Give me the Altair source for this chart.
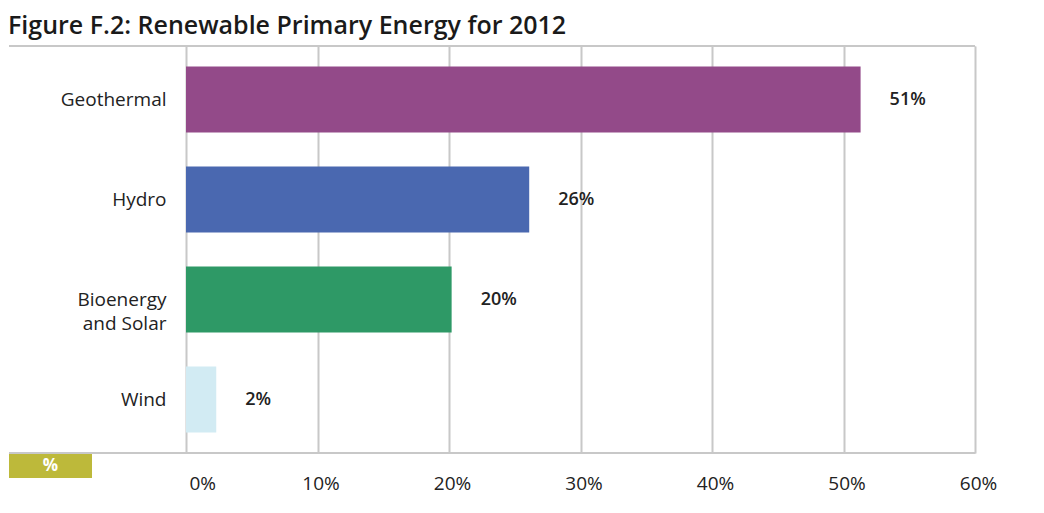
import altair as alt
import pandas as pd

categories = ["Geothermal", "Hydro", "Bioenergy|and Solar", "Wind"]
values = [51.3, 26.1, 20.2, 2.3]
labels = ["51%", "26%", "20%", "2%"]
colors = ["#934A89", "#4A68B0", "#2E9966", "#D2EBF3"]
x_ticks = [0, 10, 20, 30, 40, 50, 60]

df = pd.DataFrame({"cat": categories, "val": values, "lab": labels})

W, H = 789, 407
FONT = "Open Sans"
GRID = "#C8C8C8"

y_enc = alt.Y(
    "cat:N", sort=categories, title=None,
    scale=alt.Scale(paddingInner=0.34, paddingOuter=0.205),
    axis=alt.Axis(labelExpr="split(datum.label, '|')", labelFont=FONT, labelFontSize=19,
                  labelColor="#222222", labelPadding=20, ticks=False, domain=False,
                  labelLineHeight=24, grid=False),
)
x_enc = alt.X(
    "val:Q", title=None,
    scale=alt.Scale(domain=[0, 60], nice=False),
    axis=alt.Axis(values=x_ticks, labelExpr="datum.value + '%'", labelFont=FONT, labelFontSize=19,
                  labelColor="#222222", labelPadding=21, ticks=False, domain=False,
                  labelFlush=False, labelOffset=3,
                  labelAlign=alt.ExprRef(expr="datum.value == 0 ? 'left' : 'center'"),
                  grid=True, gridColor=GRID, gridWidth=2),
)

bars = alt.Chart(df).mark_bar().encode(
    x=x_enc, y=y_enc,
    color=alt.Color("cat:N", sort=categories, scale=alt.Scale(domain=categories, range=colors), legend=None),
)

text = alt.Chart(df).mark_text(align="left", dx=29, font=FONT, fontSize=18, fontWeight=600, color="#222222").encode(
    x="val:Q", y=alt.Y("cat:N", sort=categories), text="lab:N",
)

deco_df = pd.DataFrame({"k": [0]})
top_rule = alt.Chart(deco_df).mark_rule(color=GRID, strokeWidth=2).encode(
    x=alt.value(-177), x2=alt.value(W), y=alt.value(0))
bot_rule = alt.Chart(deco_df).mark_rule(color=GRID, strokeWidth=2).encode(
    x=alt.value(-177), x2=alt.value(W), y=alt.value(H))
badge = alt.Chart(deco_df).mark_rect(color="#BDB93A").encode(
    x=alt.value(-177), x2=alt.value(-94), y=alt.value(H + 1), y2=alt.value(H + 25))
badge_text = alt.Chart(deco_df).mark_text(text="%", color="white", font=FONT, fontSize=17, fontWeight="bold").encode(
    x=alt.value(-135.5), y=alt.value(H + 13))

chart = alt.layer(bars, text, top_rule, bot_rule, badge, badge_text).properties(
    width=W, height=H,
    title=alt.TitleParams("Figure F.2: Renewable Primary Energy for 2012", anchor="start", frame="bounds",
                          font=FONT, fontSize=25, fontWeight=600, color="#1A1A1A", offset=6),
).configure_view(stroke=None).configure(padding={"left": 0, "top": 6, "right": 5, "bottom": 5})

chart.save("out.html", embed_options={"renderer": "svg", "actions": False})
